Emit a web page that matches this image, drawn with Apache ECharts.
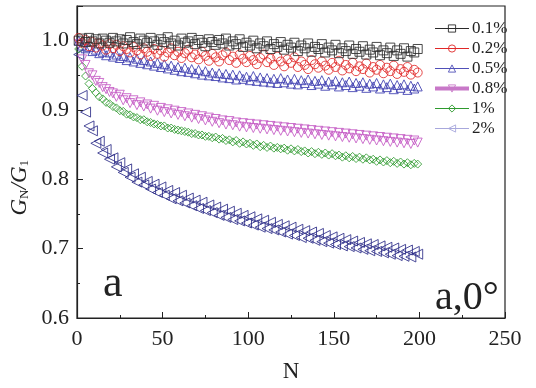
<!DOCTYPE html>
<html>
<head>
<meta charset="utf-8">
<script src="https://cdn.jsdelivr.net/npm/echarts@6/dist/echarts.min.js"></script>
<style>html,body{margin:0;padding:0;background:#fff}#c{width:536px;height:388px}</style>
</head>
<body>
<div id="c"></div>
<script>
// Cycle number N (x values shared by all series)
var N = [1,3,5,7,9,11,13,15,17,19,21,23,25,27,29,31,33,35,37,39,41,43,45,47,49,51,53,55,57,59,61,63,65,67,69,71,73,75,77,79,81,83,85,87,89,91,93,95,97,99,101,103,105,107,109,111,113,115,117,119,121,123,125,127,129,131,133,135,137,139,141,143,145,147,149,151,153,155,157,159,161,163,165,167,169,171,173,175,177,179,181,183,185,187,189,191,193,195,197,199];
var seriesNames = ['0.1%','0.2%','0.5%','0.8%','1%','2%'];
var xTicks = [0,50,100,150,200,250];
var yTicks = [0.6,0.7,0.8,0.9,1.0];

var s01 = [1.000,1.003,0.998,1.004,0.999,1.002,0.996,1.003,1.000,0.997,
1.004,0.999,1.002,0.996,1.001,1.005,0.998,0.995,1.003,1.000,
0.997,1.004,0.999,0.994,1.002,0.998,1.005,0.996,1.000,0.993,
1.003,0.997,0.999,1.004,0.995,1.001,0.997,0.992,1.002,0.998,
0.994,1.001,0.996,1.003,0.993,0.999,0.995,1.002,0.991,0.997,
0.993,1.000,0.989,0.996,0.992,0.999,0.988,0.995,0.991,0.998,
0.987,0.994,0.990,0.997,0.985,0.993,0.989,0.996,0.984,0.991,
0.988,0.995,0.983,0.990,0.986,0.994,0.982,0.989,0.985,0.993,
0.981,0.988,0.984,0.992,0.980,0.987,0.983,0.991,0.979,0.986,
0.982,0.990,0.978,0.986,0.981,0.989,0.977,0.985,0.983,0.988];
var s02 = [1.004,0.997,1.001,0.992,0.998,0.990,0.996,0.993,0.987,0.995,
0.989,0.994,0.985,0.992,0.988,0.983,0.991,0.986,0.980,0.989,
0.984,0.978,0.988,0.981,0.986,0.977,0.983,0.989,0.979,0.984,
0.975,0.982,0.987,0.976,0.980,0.973,0.984,0.978,0.971,0.981,
0.976,0.970,0.979,0.983,0.972,0.977,0.968,0.980,0.974,0.969,
0.978,0.972,0.966,0.975,0.980,0.969,0.974,0.965,0.977,0.970,
0.963,0.973,0.968,0.976,0.962,0.970,0.965,0.959,0.972,0.966,
0.961,0.970,0.964,0.958,0.968,0.962,0.971,0.957,0.965,0.960,
0.968,0.956,0.963,0.959,0.967,0.954,0.962,0.958,0.965,0.953,
0.961,0.956,0.964,0.952,0.959,0.955,0.962,0.951,0.958,0.954];
var s05 = [1.000,0.993,0.989,0.991,0.985,0.987,0.982,0.984,0.979,0.983,
0.977,0.980,0.975,0.978,0.972,0.976,0.970,0.974,0.968,0.972,
0.966,0.970,0.964,0.968,0.962,0.966,0.960,0.964,0.958,0.962,
0.956,0.961,0.955,0.959,0.953,0.958,0.951,0.956,0.950,0.954,
0.949,0.953,0.947,0.952,0.946,0.951,0.944,0.950,0.945,0.948,
0.943,0.949,0.942,0.947,0.941,0.946,0.940,0.945,0.939,0.946,
0.940,0.944,0.938,0.945,0.937,0.943,0.939,0.944,0.936,0.942,
0.938,0.943,0.935,0.941,0.937,0.942,0.934,0.940,0.936,0.941,
0.933,0.939,0.935,0.940,0.932,0.938,0.934,0.939,0.931,0.937,
0.933,0.938,0.930,0.936,0.932,0.937,0.929,0.935,0.931,0.934];
var s08 = [0.995,0.973,0.965,0.953,0.950,0.942,0.939,0.933,0.930,0.926,
0.924,0.919,0.922,0.914,0.917,0.910,0.914,0.907,0.911,0.905,
0.908,0.902,0.906,0.899,0.903,0.897,0.901,0.895,0.899,0.893,
0.897,0.891,0.895,0.889,0.893,0.887,0.891,0.885,0.889,0.883,
0.887,0.881,0.885,0.879,0.884,0.878,0.882,0.876,0.881,0.875,
0.880,0.874,0.879,0.873,0.878,0.872,0.877,0.871,0.876,0.870,
0.875,0.869,0.874,0.868,0.873,0.867,0.872,0.866,0.871,0.865,
0.870,0.864,0.869,0.863,0.868,0.862,0.867,0.861,0.866,0.860,
0.865,0.859,0.864,0.858,0.863,0.857,0.862,0.856,0.861,0.855,
0.860,0.854,0.859,0.853,0.858,0.852,0.857,0.851,0.856,0.853];
var s1 = [0.988,0.963,0.949,0.938,0.931,0.925,0.919,0.916,0.911,0.909,
0.905,0.903,0.899,0.898,0.894,0.893,0.890,0.889,0.886,0.886,
0.883,0.882,0.880,0.879,0.877,0.877,0.874,0.874,0.872,0.871,
0.870,0.869,0.868,0.866,0.866,0.864,0.864,0.862,0.862,0.860,
0.861,0.858,0.859,0.856,0.857,0.854,0.856,0.852,0.854,0.851,
0.852,0.849,0.851,0.847,0.849,0.846,0.848,0.845,0.846,0.844,
0.845,0.842,0.844,0.841,0.843,0.840,0.841,0.838,0.840,0.837,
0.839,0.836,0.838,0.835,0.837,0.834,0.835,0.832,0.834,0.831,
0.833,0.830,0.832,0.829,0.831,0.828,0.829,0.826,0.828,0.825,
0.827,0.824,0.826,0.823,0.825,0.822,0.824,0.821,0.823,0.822];
var s2 = [0.980,0.921,0.897,0.877,0.870,0.852,0.855,0.838,0.843,0.829,
0.831,0.818,0.824,0.810,0.815,0.803,0.808,0.796,0.803,0.792,
0.797,0.786,0.793,0.781,0.789,0.777,0.784,0.772,0.781,0.769,
0.777,0.766,0.773,0.762,0.770,0.758,0.767,0.755,0.763,0.752,
0.760,0.748,0.757,0.745,0.754,0.742,0.751,0.740,0.748,0.737,
0.746,0.734,0.743,0.731,0.741,0.729,0.738,0.727,0.735,0.724,
0.733,0.721,0.731,0.719,0.728,0.716,0.726,0.715,0.724,0.712,
0.722,0.710,0.719,0.708,0.717,0.706,0.715,0.704,0.713,0.703,
0.711,0.701,0.709,0.699,0.707,0.697,0.706,0.696,0.704,0.694,
0.702,0.692,0.701,0.690,0.699,0.689,0.698,0.688,0.696,0.692];

var values = [s01, s02, s05, s08, s1, s2];
var colors = ['#2a2a2a', '#e02828', '#3c3cb0', '#c458c4', '#2e9a2e', '#2c2c88'];
var legendColors = ['#2a2a2a', '#e02828', '#5050b8', '#c878c8', '#2e9a2e', '#a8a8dc'];
var symbols = ['rect', 'circle', 'triangle', 'triangle', 'diamond', 'triangle'];
var rotates = [0, 0, 0, 180, 0, 90];
var sizes = [9, 9, 9, 9, 8, 10];

var FONT = '"Liberation Serif", "DejaVu Serif", serif';
var chart = echarts.init(document.getElementById('c'), null, {renderer: 'canvas'});

var series = seriesNames.map(function (name, i) {
  return {
    name: name,
    type: 'line',
    data: N.map(function (n, k) { return [n, values[i][k]]; }),
    symbol: symbols[i],
    symbolRotate: rotates[i],
    symbolSize: sizes[i],
    showAllSymbol: true,
    showSymbol: true,
    lineStyle: {width: 0, opacity: 0},
    itemStyle: {color: 'rgba(255,255,255,0)', borderColor: colors[i], borderWidth: 0.85},
    emphasis: {disabled: true},
    z: 10 - i
  };
});

var option = {
  animation: false,
  backgroundColor: '#fff',
  grid: {left: 77, right: 31, top: 6, bottom: 63, show: true, borderColor: '#222', borderWidth: 1.2, backgroundColor: 'transparent'},
  legend: {
    orient: 'vertical',
    left: 428,
    top: 15,
    itemWidth: 34,
    itemHeight: 9,
    itemGap: 3,
    textStyle: {fontFamily: FONT, fontSize: 17, color: '#222', lineHeight: 16.5, padding: [0, 0, 0, -2]},
    data: seriesNames.map(function (name, i) {
      return {
        name: name,
        itemStyle: {color: 'rgba(255,255,255,0)', borderColor: legendColors[i], borderWidth: 0.9},
        lineStyle: {color: legendColors[i], width: i === 3 ? 4 : 1, opacity: 1}
      };
    })
  },
  xAxis: {
    type: 'value',
    min: xTicks[0], max: xTicks[xTicks.length - 1], interval: 50,
    name: 'N', nameLocation: 'middle', nameGap: 42,
    nameTextStyle: {fontFamily: FONT, fontSize: 23, color: '#222'},
    axisLine: {lineStyle: {color: '#222', width: 1.2}},
    axisTick: {inside: true, length: 6, lineStyle: {color: '#222'}},
    minorTick: {show: true, splitNumber: 2, length: 3, lineStyle: {color: '#222'}},
    splitLine: {show: false},
    axisLabel: {fontFamily: FONT, fontSize: 22, color: '#222', margin: 10,
      formatter: function (v) { return xTicks.indexOf(v) >= 0 ? String(v) : ''; }}
  },
  yAxis: {
    type: 'value',
    min: 0.6, max: 1.05, interval: 0.1,
    axisLine: {show: true, lineStyle: {color: '#222', width: 1.2}},
    axisTick: {show: true, inside: true, length: 6, lineStyle: {color: '#222'}},
    minorTick: {show: true, splitNumber: 2, length: 3, lineStyle: {color: '#222'}},
    splitLine: {show: false},
    axisLabel: {fontFamily: FONT, fontSize: 22, color: '#222', margin: 8, showMaxLabel: false,
      formatter: function (v) {
        for (var k = 0; k < yTicks.length; k++) { if (Math.abs(v - yTicks[k]) < 1e-6) return yTicks[k].toFixed(1); }
        return '';
      }}
  },
  graphic: [
    {type: 'text', left: 8, top: 160, rotation: Math.PI / 2, z: 100,
      style: {
        text: '{i|G}{s|N}{i|/G}{s|1}',
        textAlign: 'center', textVerticalAlign: 'middle',
        rich: {
          i: {fontFamily: FONT, fontSize: 23, fontStyle: 'italic', fill: '#222'},
          s: {fontFamily: FONT, fontSize: 13, fill: '#222', padding: [10, 0, 0, 0]}
        }
      }},
    {type: 'text', left: 103, top: 262, z: 100,
      style: {text: 'a', fontFamily: FONT, fontSize: 44, fill: '#222'}},
    {type: 'text', left: 435, top: 278, z: 100,
      style: {text: 'a,0°', fontFamily: FONT, fontSize: 40, fill: '#222'}}
  ],
  series: series
};
chart.setOption(option);
</script>
</body>
</html>
